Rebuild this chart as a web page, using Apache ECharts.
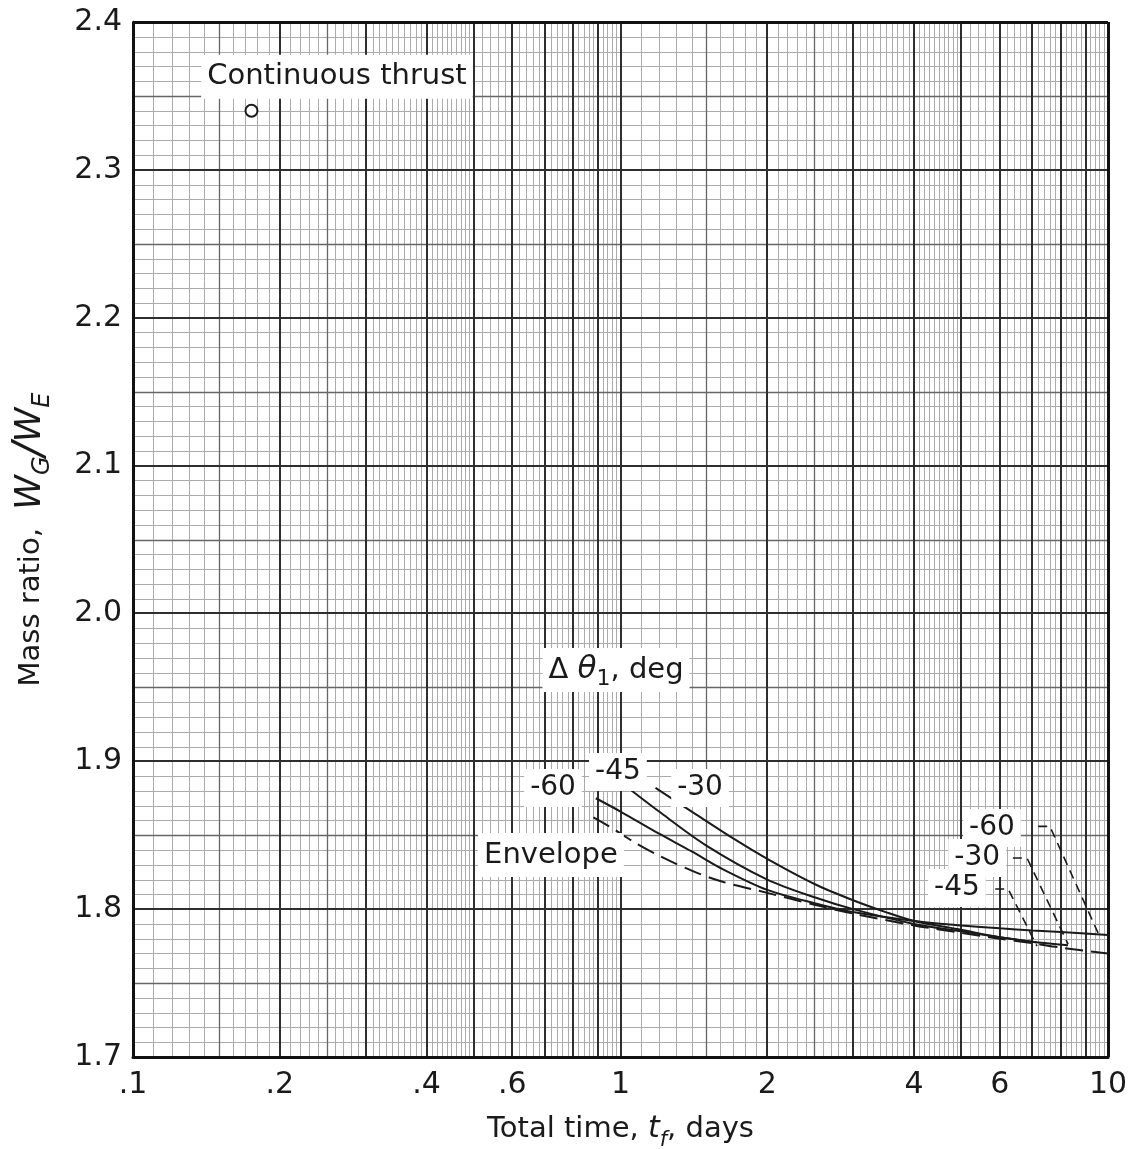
<!DOCTYPE html>
<html><head><meta charset="utf-8">
<script src="https://cdn.jsdelivr.net/npm/echarts@6/dist/echarts.min.js"></script>
<style>html,body{margin:0;padding:0;background:#fff}#c{width:1134px;height:1149px}</style>
</head><body><div id="c"></div>
<script>
// ---------- data ----------
const xTickValues = [0.1, 0.2, 0.4, 0.6, 1, 2, 4, 6, 10];
const xTickLabels = ['.1', '.2', '.4', '.6', '1', '2', '4', '6', '10'];

const continuousThrust = [[0.175, 2.34]];

const envT = [0.88, 0.97, 1.07, 1.22, 1.4, 1.6, 2.0, 2.5, 3, 4, 5, 6, 7, 8, 10];
const envV = [1.862, 1.854, 1.845, 1.835, 1.826, 1.819, 1.811, 1.803, 1.797, 1.789, 1.784, 1.780, 1.777, 1.774, 1.770];

const m60T = [0.89, 1.0, 1.2, 1.4, 1.6, 2.0, 2.5, 3, 4, 5, 6, 7, 8, 10];
const m60V = [1.875, 1.866, 1.851, 1.839, 1.828, 1.813, 1.804, 1.798, 1.792, 1.789, 1.787, 1.7855, 1.7845, 1.7825];

const m45T = [1.0, 1.2, 1.5, 2.0, 2.5, 3, 4, 5, 6, 7.15];
const m45V = [1.886, 1.866, 1.843, 1.820, 1.808, 1.800, 1.790, 1.785, 1.781, 1.7775];

const m30T = [1.18, 1.4, 1.7, 2.0, 2.5, 3, 3.5, 4, 5, 6, 7, 8.28];
const m30V = [1.882, 1.866, 1.848, 1.834, 1.817, 1.806, 1.798, 1.792, 1.786, 1.781, 1.778, 1.7755];

// leader lines from right-hand labels to curve ends
const lead60 = [[7.19, 1.856], [7.6, 1.856], [9.54, 1.784]];
const lead30 = [[6.38, 1.8346], [6.82, 1.8346], [8.28, 1.7764]];
const lead45 = [[5.87, 1.8136], [6.24, 1.8136], [7.15, 1.775]];

// annotation texts and anchor points (data coordinates)
const annoText = ['{n|Continuous thrust}', '{n|Δ }{it|θ}{sub|1}{n|, deg}', '{d|-45}', '{d|-60}', '{d|-30}', '{n|Envelope}', '{d|-60}', '{d|-30}', '{d|-45}'];
const annoAt = [[0.262, 2.363], [0.979, 1.9617], [0.988, 1.8928], [0.727, 1.882], [1.456, 1.882], [0.72, 1.8366], [5.78, 1.8549], [5.39, 1.8346], [4.90, 1.8143]];

// ---------- graph-paper grid positions ----------
const yGrid = [];
for (let i = 0; i <= 70; i++) {
  const lvl = (i === 0 || i === 70) ? 3 : (i % 10 === 0 ? 2 : (i % 5 === 0 ? 1 : 0));
  yGrid.push([0.1, (170 + i) / 100, lvl]);
}
const xGrid = [];
[0.1, 1].forEach(function (d, di) {
  for (let k = 10; k <= 100; k++) {
    if (k >= 50 && k % 2 !== 0) continue;
    if (di === 0 && k === 100) continue;
    let lvl = k % 10 === 0 ? 2 : ((k < 30 && k % 10 === 5) ? 1 : 0);
    const v = d * k / 10;
    if ((di === 0 && k === 10) || (di === 1 && k === 100)) lvl = 3;
    xGrid.push([v, 2.0, lvl]);
  }
});

const FONT = 'DejaVu Sans';
const INK = '#1a1a1a';
const gridStyles = [
  { stroke: '#ababab', lineWidth: 1 },
  { stroke: '#666', lineWidth: 1.3 },
  { stroke: '#2e2e2e', lineWidth: 2 },
  { stroke: '#111', lineWidth: 3 }
];
function crisp(v, w) { return (Math.round(w) % 2 === 1) ? Math.round(v) + 0.5 : Math.round(v); }

function gridRender(vertical) {
  return function (params, api) {
    const lvl = api.value(2);
    const st = gridStyles[lvl];
    let p1, p2;
    if (vertical) {
      const x = api.value(0);
      p1 = api.coord([x, 1.7]); p2 = api.coord([x, 2.4]);
      const cx = crisp(p1[0], st.lineWidth);
      p1[0] = cx; p2[0] = cx;
    } else {
      const y = api.value(1);
      p1 = api.coord([0.1, y]); p2 = api.coord([10, y]);
      const cy = crisp(p1[1], st.lineWidth);
      p1[1] = cy; p2[1] = cy;
    }
    return { type: 'line', shape: { x1: p1[0], y1: p1[1], x2: p2[0], y2: p2[1] },
      style: { stroke: st.stroke, lineWidth: st.lineWidth }, z2: lvl };
  };
}

function pairs(t, v) { return t.map(function (x, i) { return [x, v[i]]; }); }

function curve(name, t, v, dashed) {
  return {
    name: name, type: 'line', data: pairs(t, v), smooth: 0.3, symbol: 'none', z: 4, silent: true,
    lineStyle: { color: INK, width: 2, type: dashed ? [18, 8] : 'solid' }
  };
}
function leader(d) {
  return { type: 'line', data: d, symbol: 'none', z: 4, silent: true,
    lineStyle: { color: INK, width: 1.6, type: [9, 6] } };
}

const chart = echarts.init(document.getElementById('c'), null, { renderer: 'canvas' });
chart.setOption({
  animation: false,
  backgroundColor: '#fff',
  grid: { left: 133, right: 26, top: 22, bottom: 92, containLabel: false, outerBoundsMode: 'none' },
  xAxis: {
    type: 'log', logBase: 10, min: 0.1, max: 10,
    axisLine: { show: true, lineStyle: { color: '#111', width: 3 } },
    axisTick: { show: false }, axisLabel: { show: false }, splitLine: { show: false },
    name: '{n|Total time, }{it|t}{sub|f}{n|, days}',
    nameLocation: 'middle', nameGap: 50,
    nameTextStyle: {
      color: INK, fontFamily: FONT,
      rich: {
        n: { fontSize: 29, fontFamily: FONT, color: INK, lineHeight: 44 },
        it: { fontSize: 30, fontFamily: FONT, fontStyle: 'italic', color: INK, lineHeight: 44 },
        sub: { fontSize: 21, fontFamily: FONT, fontStyle: 'italic', color: INK, lineHeight: 18, verticalAlign: 'bottom' }
      }
    }
  },
  yAxis: {
    type: 'value', min: 1.7, max: 2.4, interval: 0.1,
    axisLine: { show: true, lineStyle: { color: '#111', width: 2.5 } },
    axisTick: { show: false }, splitLine: { show: false },
    axisLabel: { fontSize: 30, fontFamily: FONT, color: INK, margin: 11,
      formatter: function (v) { return v.toFixed(1); } },
    name: '{n|Mass ratio,  }{w|W}{s|G}{sl|/}{w|W}{s|E}',
    nameLocation: 'middle', nameRotate: 90, nameGap: 78,
    nameTextStyle: {
      color: INK, fontFamily: FONT,
      rich: {
        n: { fontSize: 29, fontFamily: FONT, color: INK, lineHeight: 48 },
        w: { fontSize: 35, fontFamily: FONT, fontStyle: 'italic', color: INK, lineHeight: 48 },
        sl: { fontSize: 42, fontFamily: FONT, fontStyle: 'italic', color: INK, lineHeight: 48 },
        s: { fontSize: 24, fontFamily: FONT, fontStyle: 'italic', color: INK, lineHeight: 20, verticalAlign: 'bottom' }
      }
    }
  },
  series: [
    { type: 'custom', renderItem: gridRender(false), data: yGrid, z: 1, silent: true, clip: false },
    { type: 'custom', renderItem: gridRender(true), data: xGrid, z: 1, silent: true, clip: false },
    curve('Envelope', envT, envV, true),
    curve('-60', m60T, m60V, false),
    curve('-45', m45T, m45V, false),
    curve('-30', m30T, m30V, false),
    leader(lead60), leader(lead30), leader(lead45),
    {
      name: 'Continuous thrust', type: 'scatter', data: continuousThrust, symbol: 'emptyCircle', symbolSize: 12,
      itemStyle: { color: INK, borderColor: INK, borderWidth: 1.6, opacity: 1 }, z: 6, silent: true
    },
    {
      type: 'scatter', data: annoAt.map(function (p, i) { return { value: p, label: { formatter: annoText[i] } }; }),
      symbolSize: 0, z: 8, silent: true, clip: false,
      itemStyle: { color: INK, opacity: 1 },
      label: {
        show: true, position: 'inside', backgroundColor: '#fff', padding: [2, 6], opacity: 1,
        color: INK, fontFamily: FONT,
        rich: {
          n: { fontSize: 29, fontFamily: FONT, color: INK, lineHeight: 40 },
          d: { fontSize: 28, fontFamily: FONT, color: INK, lineHeight: 34 },
          it: { fontSize: 31, fontFamily: FONT, fontStyle: 'italic', color: INK, lineHeight: 40 },
          sub: { fontSize: 22, fontFamily: FONT, color: INK, lineHeight: 22, verticalAlign: 'bottom' }
        }
      }
    },
    {
      type: 'scatter', data: xTickValues.map(function (v) { return [v, 1.7]; }),
      symbolSize: 0, z: 8, silent: true, clip: false, itemStyle: { color: INK, opacity: 1 },
      label: { show: true, position: 'bottom', distance: 13, fontSize: 30, fontFamily: FONT, color: INK, opacity: 1,
        formatter: function (p) { return xTickLabels[p.dataIndex]; } }
    }
  ]
});
</script>
</body></html>
